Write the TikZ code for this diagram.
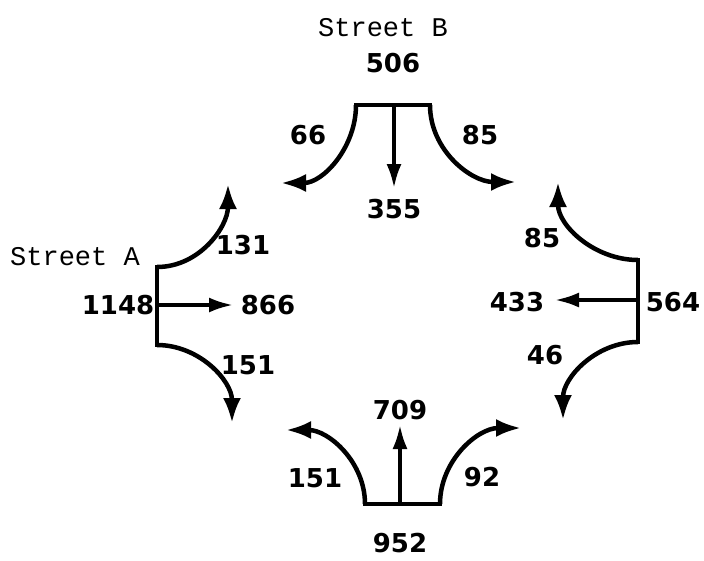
\documentclass[tikz,border=0pt]{standalone}
\usepackage{fontspec}
\setmainfont{DejaVu Sans}
\newfontfamily\streetfont{Liberation Mono}
\usetikzlibrary{arrows.meta}
\tikzset{
  flow/.style={line width=4.5pt, -{Latex[length=25pt,width=18pt]}},
  thru/.style={line width=3.5pt, -{Latex[length=24pt,width=15pt]}},
  barline/.style={line width=4.5pt, line cap=rect},
  num/.style={font=\fontsize{26}{30}\selectfont\bfseries, inner sep=0pt},
  street/.style={font=\streetfont\fontsize{27}{30}\selectfont, inner sep=0pt}
}
\begin{document}
\begin{tikzpicture}[x=1pt,y=-1pt]
\useasboundingbox (0,0) rectangle (704,560);
% ---- Street B (top)
\coordinate (tbl) at (356,105);
\coordinate (tbr) at (430,105);
\coordinate (tbm) at (394,105);
\coordinate (tel) at (281,183);
\coordinate (ter) at (516,182);
\coordinate (tem) at (394,188);
\draw[barline] (tbl) -- (tbr);
\draw[flow] (tbl) to[out=-90,in=0] (tel);
\draw[flow] (tbr) to[out=-90,in=180] (ter);
\draw[thru] (tbm) -- (tem);
\node[street] (sb) at (383,28) {Street B};
\node[num] (n506) at (393,63) {506};
\node[num] (n66) at (308,135) {66};
\node[num] (n85a) at (480,135) {85};
\node[num] (n355) at (394,209) {355};
% ---- Street A (left)
\coordinate (lbt) at (157,267);
\coordinate (lbb) at (157,345);
\coordinate (lbm) at (157,305);
\coordinate (let) at (228,184);
\coordinate (leb) at (232,423);
\coordinate (lem) at (233,305);
\draw[barline] (lbt) -- (lbb);
\draw[flow] (lbt) to[out=0,in=-90] (let);
\draw[flow] (lbb) to[out=0,in=90] (leb);
\draw[thru] (lbm) -- (lem);
\node[street] (sa) at (75,257) {Street A};
\node[num] (n1148) at (118,305) {1148};
\node[num] (n866) at (268,305) {866};
\node[num] (n131) at (243,245) {131};
\node[num] (n151a) at (248,365) {151};
% ---- right
\coordinate (rbt) at (638,260);
\coordinate (rbb) at (638,342);
\coordinate (rbm) at (638,300);
\coordinate (ret) at (558,182);
\coordinate (reb) at (563,420);
\coordinate (rem) at (555,300);
\draw[barline] (rbt) -- (rbb);
\draw[flow] (rbt) to[out=180,in=-90] (ret);
\draw[flow] (rbb) to[out=180,in=90] (reb);
\draw[thru] (rbm) -- (rem);
\node[num] (n85b) at (542,238) {85};
\node[num] (n433) at (517,302) {433};
\node[num] (n564) at (673,302) {564};
\node[num] (n46) at (545,355) {46};
% ---- bottom
\coordinate (bbl) at (365,504);
\coordinate (bbr) at (440,504);
\coordinate (bbm) at (400,504);
\coordinate (bel) at (286,430);
\coordinate (ber) at (521,428);
\coordinate (bem) at (400,425);
\draw[barline] (bbl) -- (bbr);
\draw[flow] (bbl) to[out=90,in=0] (bel);
\draw[flow] (bbr) to[out=90,in=180] (ber);
\draw[thru] (bbm) -- (bem);
\node[num] (n709) at (400,410) {709};
\node[num] (n151b) at (315,478) {151};
\node[num] (n92) at (482,477) {92};
\node[num] (n952) at (400,543) {952};
\end{tikzpicture}
\end{document}
